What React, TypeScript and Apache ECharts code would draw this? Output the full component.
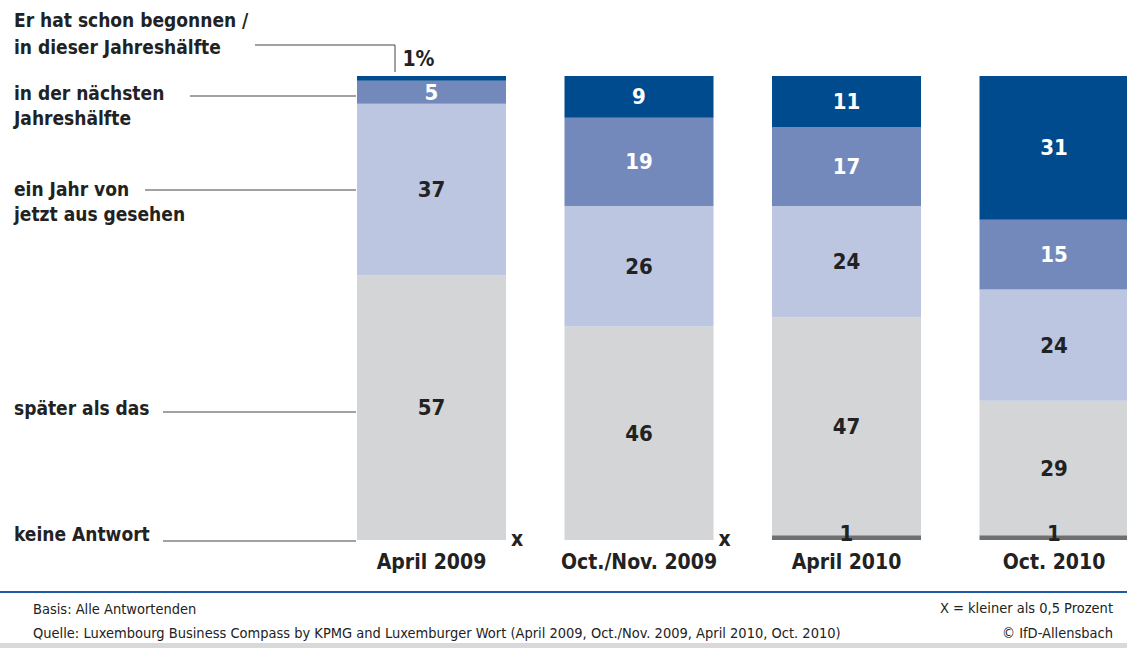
import React, { useEffect, useRef } from "react";
import * as echarts from "echarts";

const categories = ["April 2009", "Oct./Nov. 2009", "April 2010", "Oct. 2010"];
const begonnen = [1, 9, 11, 31];
const naechste = [5, 19, 17, 15];
const einJahr = [37, 26, 24, 24];
const spaeter = [57, 46, 47, 29];
const keineAntwort = [0, 0, 1, 1];

const FONT = "'DejaVu Sans Condensed', 'Liberation Sans Narrow', sans-serif";
const DARK = "#222222";

export default function App() {
  const ref = useRef<HTMLDivElement>(null);
  useEffect(() => {
    document.body.style.margin = "0";
    const chart = echarts.init(ref.current!, null, { renderer: "svg" });
    const valLabel = (color: string) => ({
      show: true,
      position: "inside",
      color,
      fontFamily: FONT,
      fontWeight: "bold",
      fontSize: 22,
    });
    const common = {
      type: "bar",
      stack: "total",
      barWidth: 149,
      clip: false,
    };
    const option: any = {
      animation: false,
      backgroundColor: "#ffffff",
      grid: { left: 431.5, width: 622.5, top: 76, height: 464 },
      xAxis: {
        type: "category",
        data: categories,
        boundaryGap: false,
        axisLine: { show: false },
        axisTick: { show: false },
        axisLabel: {
          interval: 0,
          margin: 11,
          color: DARK,
          fontFamily: FONT,
          fontWeight: "bold",
          fontSize: 21,
        },
      },
      yAxis: { type: "value", min: 0, max: 100, show: false, splitLine: { show: false } },
      series: [
        {
          ...common,
          name: "keine Antwort",
          itemStyle: { color: "#6e6f71" },
          data: keineAntwort.map((v) =>
            v === 0
              ? {
                  value: v,
                  label: {
                    show: true,
                    position: "right",
                    formatter: "x",
                    color: DARK,
                    fontFamily: FONT,
                    fontWeight: "bold",
                    fontSize: 21,
                    offset: [0, -1],
                  },
                }
              : { value: v, label: { ...valLabel(DARK), offset: [0, -4] } }
          ),
        },
        {
          ...common,
          name: "später als das",
          itemStyle: { color: "#d4d5d7" },
          label: valLabel(DARK),
          data: spaeter,
        },
        {
          ...common,
          name: "ein Jahr von jetzt aus gesehen",
          itemStyle: { color: "#bcc6e1" },
          label: valLabel(DARK),
          data: einJahr,
        },
        {
          ...common,
          name: "in der nächsten Jahreshälfte",
          itemStyle: { color: "#7389bb" },
          label: valLabel("#ffffff"),
          data: naechste,
        },
        {
          ...common,
          name: "Er hat schon begonnen / in dieser Jahreshälfte",
          itemStyle: { color: "#004b8d" },
          data: begonnen.map((v, i) =>
            i === 0
              ? {
                  value: v,
                  label: {
                    show: true,
                    position: "top",
                    formatter: "{c}%",
                    color: DARK,
                    fontFamily: FONT,
                    fontWeight: "bold",
                    fontSize: 21,
                    offset: [-13, -2],
                  },
                }
              : { value: v, label: valLabel("#ffffff") }
          ),
        },
      ],
      graphic: [
        {
          type: "text",
          left: 14,
          top: 6,
          style: {
            text: "Er hat schon begonnen /\nin dieser Jahreshälfte",
            fill: DARK,
            font: `bold 19px ${FONT}`,
            lineHeight: 27,
          },
        },
        {
          type: "text",
          left: 14,
          top: 80,
          style: {
            text: "in der nächsten\nJahreshälfte",
            fill: DARK,
            font: `bold 19px ${FONT}`,
            lineHeight: 25,
          },
        },
        {
          type: "text",
          left: 14,
          top: 176,
          style: {
            text: "ein Jahr von\njetzt aus gesehen",
            fill: DARK,
            font: `bold 19px ${FONT}`,
            lineHeight: 25,
          },
        },
        {
          type: "text",
          left: 14,
          top: 398,
          style: { text: "später als das", fill: DARK, font: `bold 19px ${FONT}` },
        },
        {
          type: "text",
          left: 14,
          top: 524,
          style: { text: "keine Antwort", fill: DARK, font: `bold 19px ${FONT}` },
        },
        { type: "polyline", shape: { points: [[255, 45], [395, 45], [395, 72]] }, style: { stroke: "#444", lineWidth: 1, fill: "none" } },
        { type: "line", shape: { x1: 190, y1: 96, x2: 356, y2: 96 }, style: { stroke: "#444", lineWidth: 1 } },
        { type: "line", shape: { x1: 145, y1: 190, x2: 356, y2: 190 }, style: { stroke: "#444", lineWidth: 1 } },
        { type: "line", shape: { x1: 163, y1: 412, x2: 356, y2: 412 }, style: { stroke: "#444", lineWidth: 1 } },
        { type: "line", shape: { x1: 163, y1: 541, x2: 356, y2: 541 }, style: { stroke: "#444", lineWidth: 1 } },
        { type: "rect", shape: { x: 0, y: 591, width: 1127, height: 2 }, style: { fill: "#1f5aa6" } },
        {
          type: "text",
          left: 33,
          top: 601,
          style: { text: "Basis: Alle Antwortenden", fill: DARK, font: `14.5px ${FONT}` },
        },
        {
          type: "text",
          left: 33,
          top: 625,
          style: {
            text: "Quelle: Luxembourg Business Compass by KPMG and Luxemburger Wort (April 2009, Oct./Nov. 2009, April 2010, Oct. 2010)",
            fill: DARK,
            font: `14.5px ${FONT}`,
          },
        },
        {
          type: "text",
          right: 14,
          top: 600,
          style: { text: "X = kleiner als 0,5 Prozent", fill: DARK, font: `14.5px ${FONT}` },
        },
        {
          type: "text",
          right: 14,
          top: 625,
          style: { text: "© IfD-Allensbach", fill: DARK, font: `14.5px ${FONT}` },
        },
        { type: "rect", shape: { x: 0, y: 643, width: 1127, height: 5 }, style: { fill: "#d9d9d9" } },
      ],
    };
    chart.setOption(option);
    return () => chart.dispose();
  }, []);
  return <div ref={ref} style={{ width: 1127, height: 648 }} />;
}
